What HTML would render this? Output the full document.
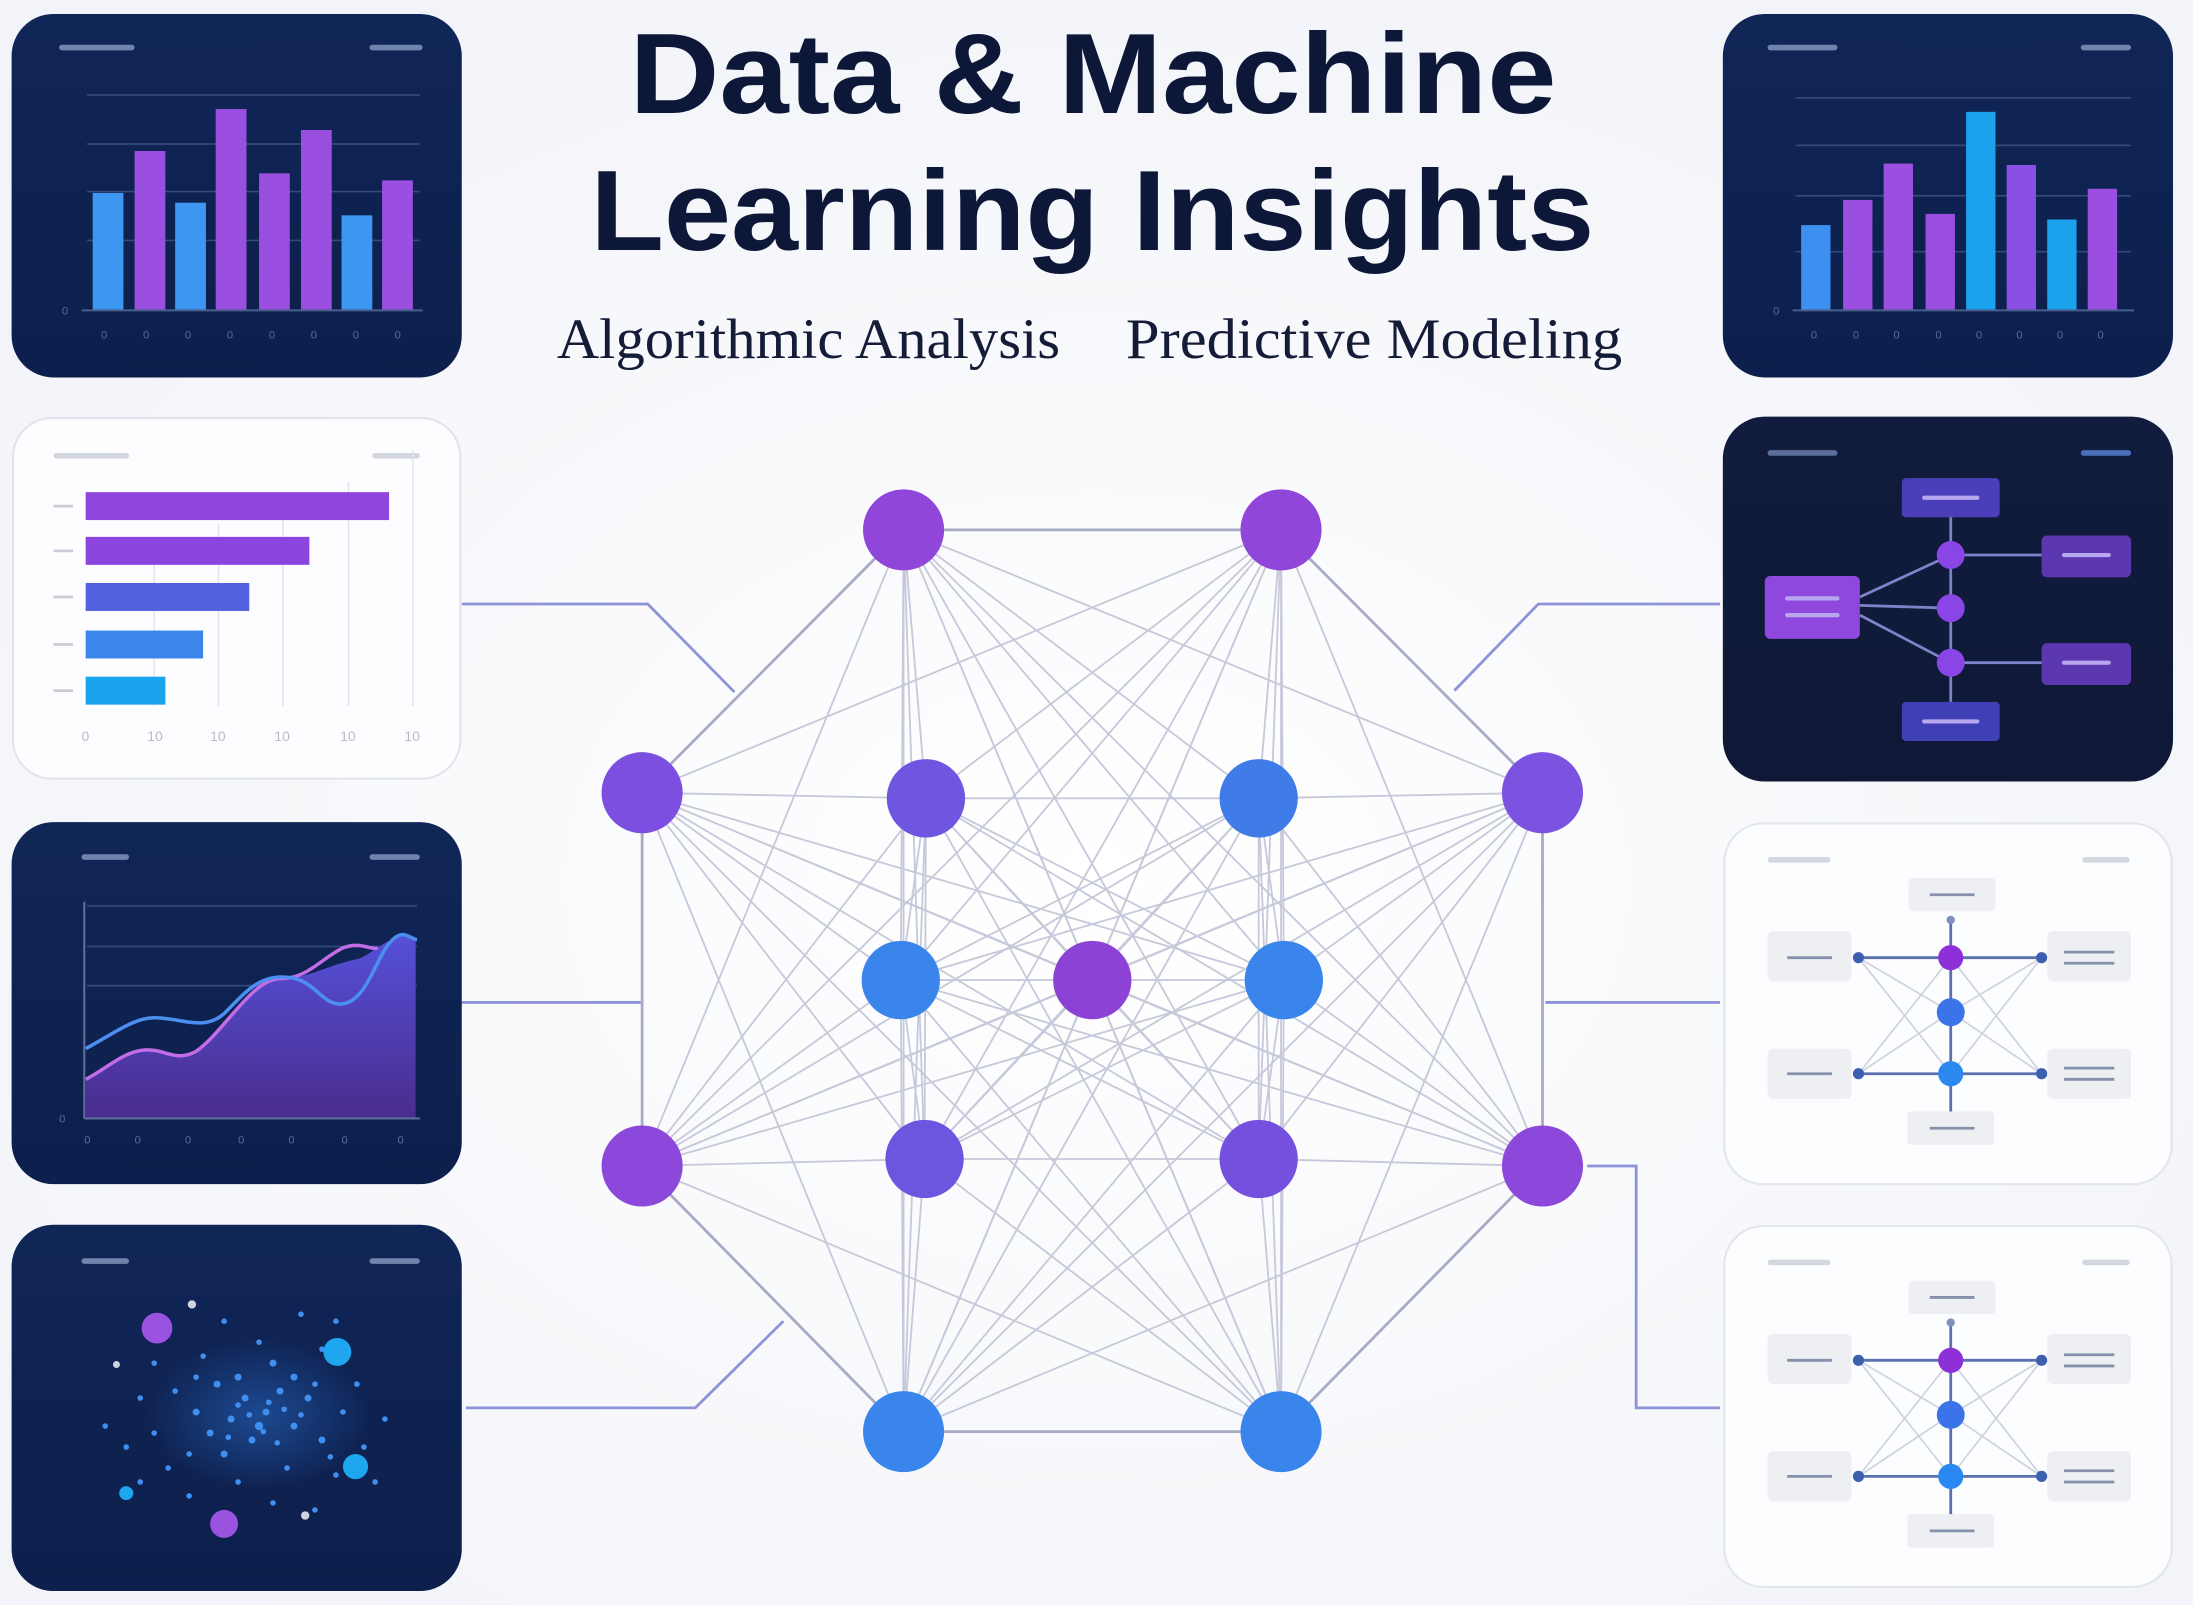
<!DOCTYPE html>
<html><head><meta charset="utf-8"><style>
html,body{margin:0;padding:0;background:#f6f7fb;}
svg{display:block}
</style></head><body>
<svg width="2193" height="1605" viewBox="0 0 1568 1148" xmlns="http://www.w3.org/2000/svg">
<defs>
<linearGradient id="dk" x1="0" y1="0" x2="0" y2="1"><stop offset="0" stop-color="#102657"/><stop offset="1" stop-color="#0d1f4c"/></linearGradient>
<linearGradient id="dk2" x1="0" y1="0" x2="0" y2="1"><stop offset="0" stop-color="#111c3e"/><stop offset="1" stop-color="#0f1836"/></linearGradient>
<linearGradient id="area" x1="0" y1="0" x2="0" y2="1"><stop offset="0" stop-color="#5550d8"/><stop offset="1" stop-color="#4a2c8c"/></linearGradient>
<radialGradient id="bg" cx="0.5" cy="0.55" r="0.6"><stop offset="0" stop-color="#ffffff"/><stop offset="1" stop-color="#f3f4f9"/></radialGradient>
<radialGradient id="glow" cx="0.5" cy="0.5" r="0.5"><stop offset="0" stop-color="#2f7ae0" stop-opacity="0.45"/><stop offset="1" stop-color="#2f7ae0" stop-opacity="0"/></radialGradient>
</defs>
<rect width="1568" height="1148" fill="url(#bg)"/>

<g fill="none" stroke="#8d93d8" stroke-width="2">
<polyline points="330,432 463,432 525,495"/>
<polyline points="330,717 458,717"/>
<polyline points="333,1007 497,1007 560,945"/>
<polyline points="1230,432 1100,432 1040,494"/>
<polyline points="1230,717 1105,717"/>
<polyline points="1230,1007 1170,1007 1170,834 1135,834"/>
</g>

<g stroke="#c6c9da" stroke-width="1.3" fill="none">
<path d="M646 379L662 571M646 379L900 571M646 379L1103 567M646 379L644 701M646 379L781 701M646 379L918 701M646 379L459 834M646 379L661 829M646 379L900 829M646 379L1103 834M646 379L646 1024M646 379L916 1024"/>
<path d="M916 379L459 567M916 379L662 571M916 379L900 571M916 379L644 701M916 379L781 701M916 379L918 701M916 379L459 834M916 379L661 829M916 379L900 829M916 379L1103 834M916 379L646 1024M916 379L916 1024"/>
<path d="M459 567L662 571M459 567L644 701M459 567L781 701M459 567L918 701M459 567L661 829M459 567L900 829M459 567L1103 834M459 567L646 1024M459 567L916 1024"/>
<path d="M662 571L900 571M662 571L644 701M662 571L781 701M662 571L918 701M662 571L459 834M662 571L661 829M662 571L900 829M662 571L1103 834M662 571L646 1024M662 571L916 1024"/>
<path d="M900 571L1103 567M900 571L644 701M900 571L781 701M900 571L918 701M900 571L459 834M900 571L661 829M900 571L900 829M900 571L1103 834M900 571L646 1024M900 571L916 1024"/>
<path d="M1103 567L644 701M1103 567L781 701M1103 567L918 701M1103 567L459 834M1103 567L661 829M1103 567L900 829M1103 567L646 1024M1103 567L916 1024"/>
<path d="M644 701L781 701M644 701L459 834M644 701L661 829M644 701L900 829M644 701L1103 834M644 701L646 1024M644 701L916 1024"/>
<path d="M781 701L918 701M781 701L459 834M781 701L661 829M781 701L900 829M781 701L1103 834M781 701L646 1024M781 701L916 1024"/>
<path d="M918 701L459 834M918 701L661 829M918 701L900 829M918 701L1103 834M918 701L646 1024M918 701L916 1024"/>
<path d="M459 834L661 829M459 834L916 1024M661 829L900 829M661 829L646 1024M661 829L916 1024M900 829L1103 834M900 829L646 1024M900 829L916 1024M1103 834L646 1024"/>
</g>
<g stroke="#a7abc4" stroke-width="2" fill="none">
<polygon points="646,379 916,379 1103,567 1103,834 916,1024 646,1024 459,834 459,567"/>
</g>
<g>
<circle cx="646" cy="379" r="29" fill="#8f46d9"/>
<circle cx="916" cy="379" r="29" fill="#8f46d9"/>
<circle cx="459" cy="567" r="29" fill="#7d4fe0"/>
<circle cx="662" cy="571" r="28" fill="#6f55e0"/>
<circle cx="900" cy="571" r="28" fill="#3f7ce8"/>
<circle cx="1103" cy="567" r="29" fill="#7b53e0"/>
<circle cx="644" cy="701" r="28" fill="#3a85ec"/>
<circle cx="781" cy="701" r="28" fill="#8d42d6"/>
<circle cx="918" cy="701" r="28" fill="#3a85ec"/>
<circle cx="459" cy="834" r="29" fill="#8c48da"/>
<circle cx="661" cy="829" r="28" fill="#6e55e0"/>
<circle cx="900" cy="829" r="28" fill="#7550de"/>
<circle cx="1103" cy="834" r="29" fill="#8c48da"/>
<circle cx="646" cy="1024" r="29" fill="#3a85ec"/>
<circle cx="916" cy="1024" r="29" fill="#3a85ec"/>
</g>

<g font-family="Liberation Sans, sans-serif" font-weight="bold" fill="#0d1838">
<text x="450" y="81" font-size="82" textLength="663" lengthAdjust="spacingAndGlyphs">Data &amp; Machine</text>
<text x="422" y="179" font-size="82" textLength="718" lengthAdjust="spacingAndGlyphs">Learning Insights</text>
</g>
<g font-family="Liberation Serif, serif" fill="#141c38" font-size="41">
<text x="398" y="256" textLength="360" lengthAdjust="spacingAndGlyphs">Algorithmic Analysis</text>
<text x="805" y="256" textLength="355" lengthAdjust="spacingAndGlyphs">Predictive Modeling</text>
</g>

<!-- LEFT PANEL 1 -->
<rect x="8" y="10" width="322" height="260" rx="30" fill="url(#dk)"/>
<g stroke="#6f84ad" stroke-width="4" stroke-linecap="round"><line x1="44" y1="34" x2="94" y2="34"/><line x1="266" y1="34" x2="300" y2="34"/></g>
<g stroke="#33497a" stroke-width="1.2"><line x1="62" y1="68" x2="300" y2="68"/><line x1="62" y1="103" x2="300" y2="103"/><line x1="62" y1="137" x2="300" y2="137"/><line x1="62" y1="172" x2="300" y2="172"/></g>
<g fill="#3d97f0"><rect x="66" y="138" width="22" height="84"/><rect x="125" y="145" width="22" height="77"/><rect x="244" y="154" width="22" height="68"/></g>
<g fill="#9a4fe0"><rect x="96" y="108" width="22" height="114"/><rect x="154" y="78" width="22" height="144"/><rect x="185" y="124" width="22" height="98"/><rect x="215" y="93" width="22" height="129"/><rect x="273" y="129" width="22" height="93"/></g>
<line x1="58" y1="222" x2="302" y2="222" stroke="#4a5f90" stroke-width="1.5"/>
<g fill="#5a6d99" font-family="Liberation Sans, sans-serif" font-size="8"><text x="44" y="225">0</text><text x="72" y="242">0</text><text x="102" y="242">0</text><text x="132" y="242">0</text><text x="162" y="242">0</text><text x="192" y="242">0</text><text x="222" y="242">0</text><text x="252" y="242">0</text><text x="282" y="242">0</text></g>

<!-- LEFT PANEL 2 -->
<rect x="9" y="299" width="320" height="258" rx="28" fill="#fdfdff" stroke="#e1e4ec" stroke-width="1.5"/>
<g stroke="#d2d6df" stroke-width="4" stroke-linecap="round"><line x1="40" y1="326" x2="90" y2="326"/><line x1="268" y1="326" x2="298" y2="326"/></g>
<g stroke="#dfe2ea" stroke-width="1"><line x1="110" y1="390" x2="110" y2="505"/><line x1="156" y1="375" x2="156" y2="505"/><line x1="202" y1="360" x2="202" y2="505"/><line x1="249" y1="345" x2="249" y2="505"/><line x1="295" y1="322" x2="295" y2="505"/></g>
<rect x="61" y="352" width="217" height="20" fill="#8f44dc"/>
<rect x="61" y="384" width="160" height="20" fill="#8b45de"/>
<rect x="61" y="417" width="117" height="20" fill="#5360e0"/>
<rect x="61" y="451" width="84" height="20" fill="#3a86ea"/>
<rect x="61" y="484" width="57" height="20" fill="#1ba4ee"/>
<g stroke="#c9cdd8" stroke-width="2"><line x1="38" y1="362" x2="52" y2="362"/><line x1="38" y1="394" x2="52" y2="394"/><line x1="38" y1="427" x2="52" y2="427"/><line x1="38" y1="461" x2="52" y2="461"/><line x1="38" y1="494" x2="52" y2="494"/></g>
<g fill="#b6bccb" font-family="Liberation Sans, sans-serif" font-size="10"><text x="58" y="530">0</text><text x="105" y="530">10</text><text x="150" y="530">10</text><text x="196" y="530">10</text><text x="243" y="530">10</text><text x="289" y="530">10</text></g>

<!-- LEFT PANEL 3 -->
<rect x="8" y="588" width="322" height="259" rx="30" fill="url(#dk)"/>
<g stroke="#6f84ad" stroke-width="4" stroke-linecap="round"><line x1="60" y1="613" x2="90" y2="613"/><line x1="266" y1="613" x2="298" y2="613"/></g>
<g stroke="#33497a" stroke-width="1.2"><line x1="62" y1="648" x2="298" y2="648"/><line x1="62" y1="677" x2="298" y2="677"/><line x1="62" y1="705" x2="298" y2="705"/></g>
<path d="M61 772 C75 765 88 752 103 751 C118 750 125 760 140 752 C160 738 180 700 200 700 C220 700 235 690 255 686 C265 684 285 662 297 672 L297 800 L61 800 Z" fill="url(#area)"/>
<path d="M61 772 C75 765 88 752 103 751 C118 750 125 760 140 752 C160 738 180 700 200 700 C220 700 230 685 245 678 C258 673 265 680 270 678" fill="none" stroke="#c26ce8" stroke-width="2.5"/>
<path d="M61 750 C80 740 95 728 110 728 C130 728 145 738 160 725 C175 710 185 697 205 699 C225 700 230 720 245 718 C265 715 270 675 285 669 C290 667 295 672 298 672" fill="none" stroke="#4c8ff0" stroke-width="2.5"/>
<line x1="60" y1="645" x2="60" y2="800" stroke="#5d6f99" stroke-width="1.5"/>
<line x1="60" y1="800" x2="300" y2="800" stroke="#5d6f99" stroke-width="1.5"/>
<g fill="#5a6d99" font-family="Liberation Sans, sans-serif" font-size="8"><text x="42" y="803">0</text><text x="60" y="818">0</text><text x="96" y="818">0</text><text x="132" y="818">0</text><text x="170" y="818">0</text><text x="206" y="818">0</text><text x="244" y="818">0</text><text x="284" y="818">0</text></g>

<!-- LEFT PANEL 4 -->
<rect x="8" y="876" width="322" height="262" rx="30" fill="url(#dk)"/>
<g stroke="#6f84ad" stroke-width="4" stroke-linecap="round"><line x1="60" y1="902" x2="90" y2="902"/><line x1="266" y1="902" x2="298" y2="902"/></g>
<ellipse cx="185" cy="1012" rx="80" ry="55" fill="url(#glow)"/>
<g fill="#3f8ef0">
<circle cx="175" cy="1000" r="2.5"/><circle cx="190" cy="1010" r="2.5"/><circle cx="200" cy="995" r="2.5"/><circle cx="165" cy="1015" r="2.5"/><circle cx="210" cy="1020" r="2.5"/><circle cx="180" cy="1030" r="2.5"/><circle cx="155" cy="990" r="2.5"/><circle cx="220" cy="1000" r="2.5"/><circle cx="140" cy="1010" r="2.5"/><circle cx="230" cy="1030" r="2.5"/><circle cx="195" cy="975" r="2.5"/><circle cx="160" cy="1040" r="2.5"/><circle cx="125" cy="995" r="2"/><circle cx="245" cy="1010" r="2"/><circle cx="205" cy="1050" r="2"/><circle cx="145" cy="970" r="2"/><circle cx="230" cy="965" r="2"/><circle cx="110" cy="1025" r="2"/><circle cx="255" cy="990" r="2"/><circle cx="120" cy="1050" r="2"/><circle cx="185" cy="960" r="2"/><circle cx="170" cy="1060" r="2"/><circle cx="100" cy="1000" r="2"/><circle cx="260" cy="1035" r="2"/><circle cx="240" cy="1055" r="2"/><circle cx="135" cy="1070" r="2"/><circle cx="90" cy="1035" r="2"/><circle cx="275" cy="1015" r="2"/><circle cx="215" cy="940" r="2"/><circle cx="160" cy="945" r="2"/><circle cx="240" cy="945" r="2"/><circle cx="75" cy="1020" r="2"/><circle cx="110" cy="975" r="2"/><circle cx="195" cy="1075" r="2"/><circle cx="155" cy="1090" r="2"/><circle cx="225" cy="1080" r="2"/><circle cx="268" cy="1060" r="2"/><circle cx="100" cy="1060" r="2"/><circle cx="185" cy="1020" r="3"/><circle cx="170" cy="985" r="2.5"/><circle cx="210" cy="985" r="2.5"/><circle cx="150" cy="1025" r="2.5"/>
<circle cx="192" cy="1003" r="2"/><circle cx="178" cy="1012" r="2"/><circle cx="203" cy="1008" r="2"/><circle cx="188" cy="1024" r="2"/><circle cx="170" cy="1005" r="2"/><circle cx="215" cy="1012" r="2"/><circle cx="198" cy="1032" r="2"/><circle cx="163" cy="1028" r="2"/><circle cx="225" cy="990" r="2"/><circle cx="140" cy="985" r="2"/><circle cx="135" cy="1040" r="2"/><circle cx="236" cy="1042" r="2"/>
</g>
<circle cx="112" cy="950" r="11" fill="#9a52e0"/>
<circle cx="160" cy="1090" r="10" fill="#9a52e0"/>
<circle cx="241" cy="967" r="10" fill="#1ea6ee"/>
<circle cx="254" cy="1049" r="9" fill="#1ea6ee"/>
<circle cx="90" cy="1068" r="5" fill="#1ea6ee"/>
<circle cx="137" cy="933" r="3" fill="#d0d4e0"/><circle cx="218" cy="1084" r="3" fill="#d0d4e0"/><circle cx="83" cy="976" r="2.5" fill="#d0d4e0"/>

<!-- RIGHT PANEL 1 -->
<rect x="1232" y="10" width="322" height="260" rx="30" fill="url(#dk)"/>
<g stroke="#6f84ad" stroke-width="4" stroke-linecap="round"><line x1="1266" y1="34" x2="1312" y2="34"/><line x1="1490" y1="34" x2="1522" y2="34"/></g>
<g stroke="#33497a" stroke-width="1.2"><line x1="1284" y1="70" x2="1524" y2="70"/><line x1="1284" y1="104" x2="1524" y2="104"/><line x1="1284" y1="140" x2="1524" y2="140"/><line x1="1284" y1="180" x2="1524" y2="180"/></g>
<rect x="1288" y="161" width="21" height="61" fill="#3d90f0"/>
<rect x="1318" y="143" width="21" height="79" fill="#9a4fe0"/>
<rect x="1347" y="117" width="21" height="105" fill="#9a4fe0"/>
<rect x="1377" y="153" width="21" height="69" fill="#9a4fe0"/>
<rect x="1406" y="80" width="21" height="142" fill="#1ba2ee"/>
<rect x="1435" y="118" width="21" height="104" fill="#8a50e4"/>
<rect x="1464" y="157" width="21" height="65" fill="#1ba2ee"/>
<rect x="1493" y="135" width="21" height="87" fill="#9a4fe0"/>
<line x1="1282" y1="222" x2="1526" y2="222" stroke="#4a5f90" stroke-width="1.5"/>
<g fill="#5a6d99" font-family="Liberation Sans, sans-serif" font-size="8"><text x="1268" y="225">0</text><text x="1295" y="242">0</text><text x="1325" y="242">0</text><text x="1354" y="242">0</text><text x="1384" y="242">0</text><text x="1413" y="242">0</text><text x="1442" y="242">0</text><text x="1471" y="242">0</text><text x="1500" y="242">0</text></g>

<!-- RIGHT PANEL 2 -->
<rect x="1232" y="298" width="322" height="261" rx="30" fill="url(#dk2)"/>
<g stroke-width="4" stroke-linecap="round"><line x1="1266" y1="324" x2="1312" y2="324" stroke="#5b6e99"/><line x1="1490" y1="324" x2="1522" y2="324" stroke="#4a70b8"/></g>
<g stroke="#7b84c8" stroke-width="2" fill="none">
<line x1="1395" y1="368" x2="1395" y2="502"/>
<line x1="1330" y1="427" x2="1395" y2="397"/><line x1="1330" y1="433" x2="1395" y2="435"/><line x1="1330" y1="440" x2="1395" y2="474"/>
<line x1="1395" y1="397" x2="1460" y2="397"/><line x1="1395" y1="474" x2="1460" y2="474"/>
</g>
<rect x="1360" y="342" width="70" height="28" rx="3" fill="#4a3fb8"/>
<rect x="1360" y="502" width="70" height="28" rx="3" fill="#3f40b5"/>
<rect x="1262" y="412" width="68" height="45" rx="4" fill="#8e48de"/>
<rect x="1460" y="383" width="64" height="30" rx="4" fill="#5c38b0"/>
<rect x="1460" y="460" width="64" height="30" rx="4" fill="#5c38b0"/>
<g stroke="#b8a7f0" stroke-width="3" stroke-linecap="round">
<line x1="1376" y1="356" x2="1414" y2="356"/><line x1="1376" y1="516" x2="1414" y2="516"/>
<line x1="1278" y1="428" x2="1314" y2="428"/><line x1="1278" y1="440" x2="1314" y2="440"/>
<line x1="1476" y1="397" x2="1508" y2="397"/><line x1="1476" y1="474" x2="1508" y2="474"/>
</g>
<circle cx="1395" cy="397" r="10" fill="#8a45e6"/><circle cx="1395" cy="435" r="10" fill="#8a45e6"/><circle cx="1395" cy="474" r="10" fill="#8a45e6"/>

<!-- RIGHT PANEL 3 & 4 -->
<g id="rp">
<rect x="1233" y="589" width="320" height="258" rx="28" fill="#fcfdff" stroke="#e2e5ec" stroke-width="1.5"/>
<g stroke="#d3d7df" stroke-width="4" stroke-linecap="round"><line x1="1266" y1="615" x2="1307" y2="615"/><line x1="1491" y1="615" x2="1521" y2="615"/></g>
<rect x="1365" y="628" width="62" height="24" rx="3" fill="#edeff3"/>
<rect x="1364" y="795" width="62" height="24" rx="3" fill="#edeff3"/>
<rect x="1264" y="666" width="60" height="36" rx="4" fill="#edeff3"/>
<rect x="1264" y="750" width="60" height="36" rx="4" fill="#edeff3"/>
<rect x="1464" y="666" width="60" height="36" rx="4" fill="#edeff3"/>
<rect x="1464" y="750" width="60" height="36" rx="4" fill="#edeff3"/>
<g stroke="#8590aa" stroke-width="2"><line x1="1380" y1="640" x2="1412" y2="640"/><line x1="1380" y1="807" x2="1412" y2="807"/><line x1="1278" y1="685" x2="1310" y2="685"/><line x1="1278" y1="768" x2="1310" y2="768"/><line x1="1476" y1="681" x2="1512" y2="681"/><line x1="1476" y1="689" x2="1512" y2="689"/><line x1="1476" y1="764" x2="1512" y2="764"/><line x1="1476" y1="772" x2="1512" y2="772"/></g>
<g stroke="#cfd2dc" stroke-width="1.2"><line x1="1329" y1="685" x2="1395" y2="768"/><line x1="1329" y1="685" x2="1395" y2="724"/><line x1="1460" y1="685" x2="1395" y2="768"/><line x1="1460" y1="685" x2="1395" y2="724"/><line x1="1329" y1="768" x2="1395" y2="724"/><line x1="1329" y1="768" x2="1395" y2="685"/><line x1="1460" y1="768" x2="1395" y2="724"/><line x1="1460" y1="768" x2="1395" y2="685"/></g>
<g stroke="#5a70b0" stroke-width="2"><line x1="1395" y1="658" x2="1395" y2="795"/><line x1="1329" y1="685" x2="1460" y2="685"/><line x1="1329" y1="768" x2="1460" y2="768"/></g>
<circle cx="1395" cy="658" r="3" fill="#7e8fc0"/>
<circle cx="1329" cy="685" r="4" fill="#3d5fb0"/><circle cx="1460" cy="685" r="4" fill="#3d5fb0"/><circle cx="1329" cy="768" r="4" fill="#3d5fb0"/><circle cx="1460" cy="768" r="4" fill="#3d5fb0"/>
<circle cx="1395" cy="685" r="9" fill="#8d30d8"/>
<circle cx="1395" cy="724" r="10" fill="#3a74e8"/>
<circle cx="1395" cy="768" r="9" fill="#2a88f0"/>
</g>
<use href="#rp" transform="translate(0,288)"/>
</svg>
</body></html>
